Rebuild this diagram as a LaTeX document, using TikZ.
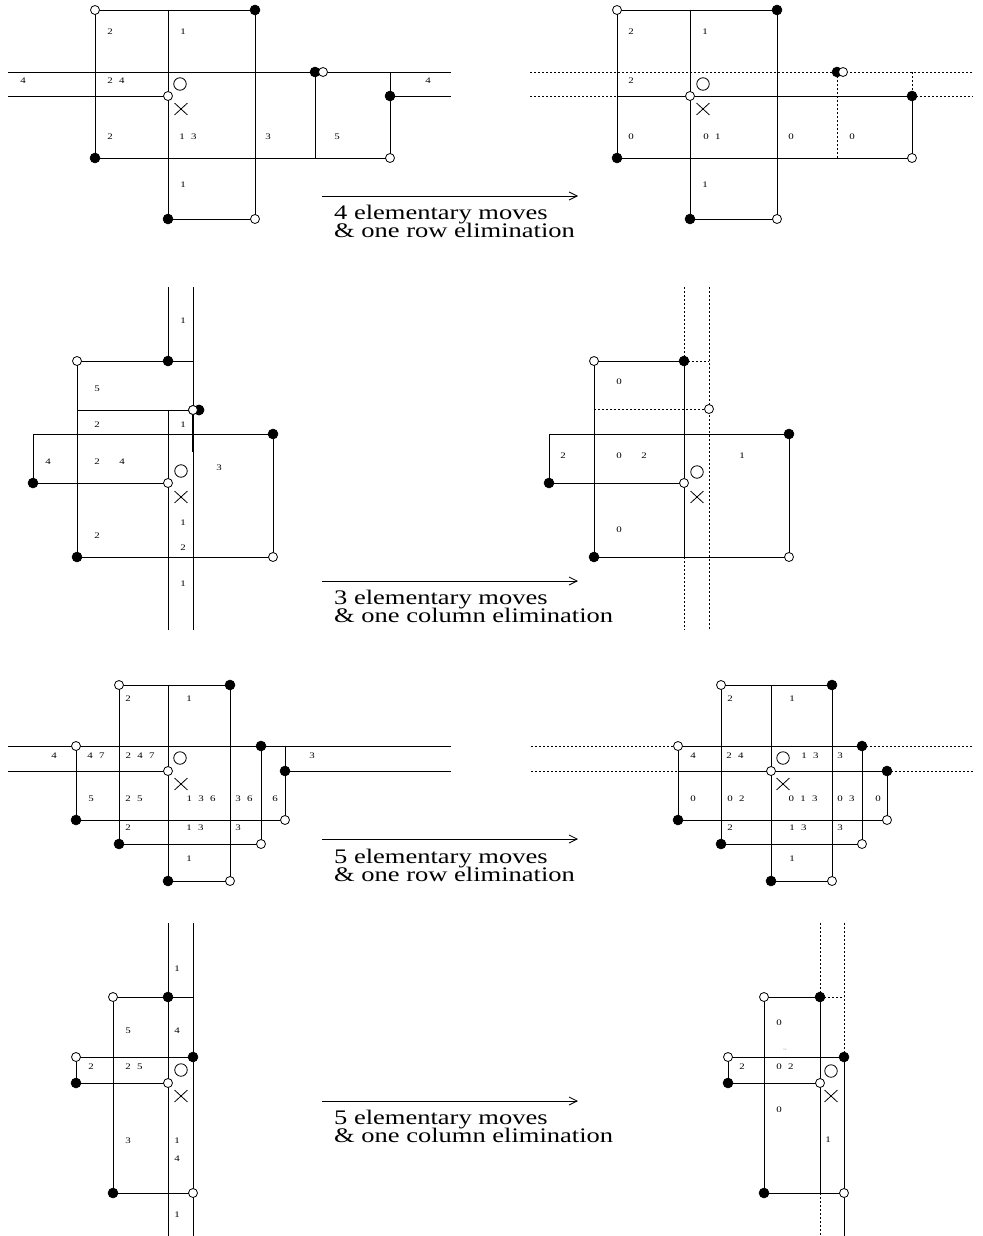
\documentclass[tikz,border=0pt]{standalone}
\usepackage{fontspec}
\setmainfont{Liberation Serif}
\newfontfamily\stretchserif[FakeStretch=1.28]{Liberation Serif}
\newcommand\mycapfont{\stretchserif\fontsize{20.7}{18}\selectfont}
\newcommand\mylabfont{\stretchserif\fontsize{8.5}{9}\selectfont\spaceskip=6.3pt\relax}
\usetikzlibrary{shapes.misc,arrows.meta}
\pgfdeclarelayer{bg}
\pgfsetlayers{bg,main}
\tikzset{
 ln/.style={line width=0.8pt},
 dt/.style={line width=0.8pt, dash pattern=on 2pt off 2pt},
 wv/.style={circle, draw, fill=white, inner sep=0pt, minimum size=9pt, line width=0.8pt},
 bv/.style={circle, draw, fill=black, inner sep=0pt, minimum size=10pt, line width=0.5pt},
 lab/.style={font=\mylabfont, inner sep=0pt},
 bigo/.style={circle, draw, inner sep=0pt, minimum size=12.5pt, line width=0.8pt},
 xm/.style={cross out, draw, inner sep=0pt, minimum width=12pt, minimum height=11pt, line width=0.8pt},
 capt/.style={font=\mycapfont, anchor=base west, inner sep=0pt},
 arr/.style={line width=0.8pt, -{Straight Barb[length=8pt,width=8pt]}},
}
\begin{document}
\begin{tikzpicture}[x=1pt,y=-1pt]
\useasboundingbox (0,0) rectangle (982,1236);

%================ ROW 1 LEFT =================
\node[wv] (A1) at (95,10) {};
\node[bv] (A2) at (255,10) {};
\node[bv] (A3) at (168,219) {};
\node[wv] (A4) at (255,219) {};
\node[bv] (A5) at (95,158) {};
\node[wv] (A6) at (390,158) {};
\node[bv] (A7) at (315,72) {};
\node[wv] (A8) at (323,72) {};
\node[wv] (A9) at (168,96) {};
\node[bv] (A10) at (390,96) {};
\coordinate (Aa) at (168,10);
\coordinate (AL1) at (8,72);
\coordinate (AR1) at (451,72);
\coordinate (AL2) at (8,96);
\coordinate (AR2) at (451,96);
\coordinate (Ab) at (315,158);
\coordinate (Ac) at (390,72);
\begin{pgfonlayer}{bg}
\draw[ln] (A1.center) -- (A2.center);
\draw[ln] (Aa) -- (A3.center);
\draw[ln] (A2.center) -- (A4.center);
\draw[ln] (A3.center) -- (A4.center);
\draw[ln] (A1.center) -- (A5.center);
\draw[ln] (A5.center) -- (A6.center);
\draw[ln] (AL1) -- (AR1);
\draw[ln] (AL2) -- (A9.center);
\draw[ln] (A10.center) -- (AR2);
\draw[ln] (A7.center) -- (Ab);
\draw[ln] (Ac) -- (A6.center);
\end{pgfonlayer}
\node[bigo] (Ao) at (180,84) {};
\node[xm] (Ax) at (181,109) {};
\node[lab] (Al1) at (110,32) {2};
\node[lab] (Al2) at (183,32) {1};
\node[lab] (Al3) at (23,81) {4};
\node[lab] (Al4) at (116,81) {2 4};
\node[lab] (Al5) at (428,81) {4};
\node[lab] (Al6) at (110,137) {2};
\node[lab] (Al7) at (188,137) {1 3};
\node[lab] (Al8) at (268,137) {3};
\node[lab] (Al9) at (337,137) {5};
\node[lab] (Al10) at (183,185) {1};

%================ ROW 1 RIGHT =================
\node[wv] (B1) at (617,10) {};
\node[bv] (B2) at (777,10) {};
\node[bv] (B3) at (690,219) {};
\node[wv] (B4) at (777,219) {};
\node[bv] (B5) at (617,158) {};
\node[wv] (B6) at (912,158) {};
\node[bv] (B7) at (837,72) {};
\node[wv] (B8) at (843,72) {};
\node[wv] (B9) at (690,96) {};
\node[bv] (B10) at (912,96) {};
\coordinate (Ba) at (690,10);
\coordinate (BL1) at (530,72);
\coordinate (BR1) at (973,72);
\coordinate (BL2) at (530,96);
\coordinate (Bm) at (617,96);
\coordinate (BR2) at (973,96);
\coordinate (Bb) at (837,158);
\coordinate (Bc) at (912,72);
\begin{pgfonlayer}{bg}
\draw[ln] (B1.center) -- (B2.center);
\draw[ln] (Ba) -- (B3.center);
\draw[ln] (B2.center) -- (B4.center);
\draw[ln] (B3.center) -- (B4.center);
\draw[ln] (B1.center) -- (B5.center);
\draw[ln] (B5.center) -- (B6.center);
\draw[ln] (Bm) -- (B10.center);
\draw[ln] (B10.center) -- (B6.center);
\draw[dt] (BL1) -- (BR1);
\draw[dt] (BL2) -- (Bm);
\draw[dt] (B10.center) -- (BR2);
\draw[dt] (B7.center) -- (Bb);
\draw[dt] (Bc) -- (B10.center);
\end{pgfonlayer}
\node[bigo] (Bo) at (703,84) {};
\node[xm] (Bx) at (703,109) {};
\node[lab] (Bl1) at (631,32) {2};
\node[lab] (Bl2) at (705,32) {1};
\node[lab] (Bl3) at (631,81) {2};
\node[lab] (Bl4) at (631,137) {0};
\node[lab] (Bl5) at (712,137) {0 1};
\node[lab] (Bl6) at (791,137) {0};
\node[lab] (Bl7) at (852,137) {0};
\node[lab] (Bl8) at (705,185) {1};

\coordinate (R1s) at (322,196);
\coordinate (R1e) at (578,196);
\draw[arr] (R1s) -- (R1e);
\node[capt] (R1a) at (334,219) {4 elementary moves};
\node[capt] (R1b) at (334,237) {\& one row elimination};

%================ ROW 2 LEFT =================
\node[bv] (C1) at (168,361) {};
\node[wv] (C2) at (77,361) {};
\node[bv] (C3) at (77,557) {};
\node[wv] (C4) at (193,410) {};
\node[bv] (C5) at (199,410) {};
\node[bv] (C6) at (273,434) {};
\node[bv] (C7) at (33,483) {};
\node[wv] (C8) at (168,483) {};
\node[wv] (C9) at (273,557) {};
\coordinate (Ct1) at (168,287);
\coordinate (Ct2) at (193,287);
\coordinate (Cb1) at (168,630);
\coordinate (Cb2) at (193,630);
\coordinate (Cm) at (168,410);
\coordinate (Cr) at (193,361);
\coordinate (Cl) at (33,434);
\coordinate (Cq) at (77,410);
\coordinate (Cs) at (193,452);
\begin{pgfonlayer}{bg}
\draw[ln] (Ct1) -- (C1.center);
\draw[ln] (Cm) -- (Cb1);
\draw[ln] (Ct2) -- (Cb2);
\draw[line width=1.5pt] (C4.center) -- (Cs);
\draw[ln] (C2.center) -- (Cr);
\draw[ln] (C2.center) -- (C3.center);
\draw[ln] (Cq) -- (C4.center);
\draw[ln] (Cl) -- (C6.center);
\draw[ln] (Cl) -- (C7.center);
\draw[ln] (C7.center) -- (C8.center);
\draw[ln] (C6.center) -- (C9.center);
\draw[ln] (C3.center) -- (C9.center);
\end{pgfonlayer}
\node[bv] (C5b) at (199,410) {};
\node[wv] (C4b) at (193,410) {};
\node[bigo] (Co) at (181,471) {};
\node[xm] (Cx) at (181,497) {};
\node[lab] (Cl1) at (183,321) {1};
\node[lab] (Cl2) at (97,389) {5};
\node[lab] (Cl3) at (97,425) {2};
\node[lab] (Cl4) at (183,425) {1};
\node[lab] (Cl5) at (48,462) {4};
\node[lab] (Cl6) at (97,462) {2};
\node[lab] (Cl7) at (122,462) {4};
\node[lab] (Cl8) at (219,468) {3};
\node[lab] (Cl9) at (183,523) {1};
\node[lab] (Cl10) at (183,548) {2};
\node[lab] (Cl11) at (97,536) {2};
\node[lab] (Cl12) at (183,584) {1};

%================ ROW 2 RIGHT =================
\node[bv] (D1) at (684,361) {};
\node[wv] (D2) at (594,361) {};
\node[bv] (D3) at (594,557) {};
\node[wv] (D4) at (709,409) {};
\node[bv] (D6) at (789,434) {};
\node[bv] (D7) at (549,483) {};
\node[wv] (D8) at (684,483) {};
\node[wv] (D9) at (789,557) {};
\coordinate (Dt1) at (684,287);
\coordinate (Dt2) at (709,287);
\coordinate (Db1) at (684,630);
\coordinate (Db2) at (709,630);
\coordinate (Dr) at (709,361);
\coordinate (Dq) at (594,409);
\coordinate (Dc) at (684,557);
\coordinate (Dl) at (549,434);
\begin{pgfonlayer}{bg}
\draw[dt] (Dt1) -- (D1.center);
\draw[ln] (D1.center) -- (Dc);
\draw[dt] (Dc) -- (Db1);
\draw[dt] (Dt2) -- (Db2);
\draw[ln] (D2.center) -- (D1.center);
\draw[dt] (D1.center) -- (Dr);
\draw[ln] (D2.center) -- (D3.center);
\draw[dt] (Dq) -- (D4.center);
\draw[ln] (Dl) -- (D6.center);
\draw[ln] (Dl) -- (D7.center);
\draw[ln] (D7.center) -- (D8.center);
\draw[ln] (D6.center) -- (D9.center);
\draw[ln] (D3.center) -- (D9.center);
\end{pgfonlayer}
\node[bigo] (Do) at (697,472) {};
\node[xm] (Dx) at (697,497) {};
\node[lab] (Dl1) at (619,382) {0};
\node[lab] (Dl2) at (563,456) {2};
\node[lab] (Dl3) at (619,456) {0};
\node[lab] (Dl4) at (644,456) {2};
\node[lab] (Dl5) at (742,456) {1};
\node[lab] (Dl6) at (619,530) {0};

\coordinate (R2s) at (322,581);
\coordinate (R2e) at (578,581);
\draw[arr] (R2s) -- (R2e);
\node[capt] (R2a) at (334,604) {3 elementary moves};
\node[capt] (R2b) at (334,622) {\& one column elimination};

%================ ROW 3 LEFT =================
\node[wv] (E1) at (119,685) {};
\node[bv] (E2) at (230,685) {};
\node[bv] (E3) at (168,881) {};
\node[wv] (E4) at (230,881) {};
\node[bv] (E5) at (119,844) {};
\node[wv] (E6) at (261,844) {};
\node[bv] (E7) at (261,746) {};
\node[wv] (E8) at (76,746) {};
\node[bv] (E9) at (76,820) {};
\node[wv] (E10) at (285,820) {};
\node[bv] (E11) at (285,771) {};
\node[wv] (E12) at (168,771) {};
\coordinate (Ea) at (168,685);
\coordinate (EL1) at (8,746);
\coordinate (ER1) at (451,746);
\coordinate (EL2) at (8,771);
\coordinate (ER2) at (451,771);
\coordinate (Ec) at (285,746);
\begin{pgfonlayer}{bg}
\draw[ln] (E1.center) -- (E2.center);
\draw[ln] (Ea) -- (E3.center);
\draw[ln] (E2.center) -- (E4.center);
\draw[ln] (E3.center) -- (E4.center);
\draw[ln] (E1.center) -- (E5.center);
\draw[ln] (E5.center) -- (E6.center);
\draw[ln] (E7.center) -- (E6.center);
\draw[ln] (EL1) -- (ER1);
\draw[ln] (E8.center) -- (E9.center);
\draw[ln] (E9.center) -- (E10.center);
\draw[ln] (Ec) -- (E10.center);
\draw[ln] (EL2) -- (E12.center);
\draw[ln] (E11.center) -- (ER2);
\end{pgfonlayer}
\node[bigo] (Eo) at (180,758) {};
\node[xm] (Ex) at (181,784) {};
\node[lab] (El1) at (128,699) {2};
\node[lab] (El2) at (189,699) {1};
\node[lab] (El3) at (54,756) {4};
\node[lab] (El4) at (96,756) {4 7};
\node[lab] (El5) at (140,756) {2 4 7};
\node[lab] (El6) at (312,756) {3};
\node[lab] (El7) at (91,799) {5};
\node[lab] (El8) at (134,799) {2 5};
\node[lab] (El9) at (201,799) {1 3 6};
\node[lab] (El10) at (244,799) {3 6};
\node[lab] (El11) at (275,799) {6};
\node[lab] (El12) at (128,828) {2};
\node[lab] (El13) at (195,828) {1 3};
\node[lab] (El14) at (238,828) {3};
\node[lab] (El15) at (189,859) {1};

%================ ROW 3 RIGHT =================
\node[wv] (F1) at (721,685) {};
\node[bv] (F2) at (832,685) {};
\node[bv] (F3) at (771,881) {};
\node[wv] (F4) at (832,881) {};
\node[bv] (F5) at (721,844) {};
\node[wv] (F6) at (862,844) {};
\node[bv] (F7) at (862,746) {};
\node[wv] (F8) at (678,746) {};
\node[bv] (F9) at (678,820) {};
\node[wv] (F10) at (887,820) {};
\node[bv] (F11) at (887,771) {};
\node[wv] (F12) at (771,771) {};
\coordinate (Fa) at (771,685);
\coordinate (FL1) at (531,746);
\coordinate (FR1) at (973,746);
\coordinate (FL2) at (531,771);
\coordinate (FR2) at (973,771);
\coordinate (Fx) at (678,771);
\begin{pgfonlayer}{bg}
\draw[ln] (F1.center) -- (F2.center);
\draw[ln] (Fa) -- (F3.center);
\draw[ln] (F2.center) -- (F4.center);
\draw[ln] (F3.center) -- (F4.center);
\draw[ln] (F1.center) -- (F5.center);
\draw[ln] (F5.center) -- (F6.center);
\draw[ln] (F7.center) -- (F6.center);
\draw[ln] (F8.center) -- (F7.center);
\draw[ln] (F8.center) -- (F9.center);
\draw[ln] (F9.center) -- (F10.center);
\draw[ln] (F11.center) -- (F10.center);
\draw[ln] (Fx) -- (F11.center);
\draw[dt] (FL1) -- (F8.center);
\draw[dt] (F7.center) -- (FR1);
\draw[dt] (FL2) -- (Fx);
\draw[dt] (F11.center) -- (FR2);
\end{pgfonlayer}
\node[bigo] (Fo) at (783,758) {};
\node[xm] (Fxx) at (783,784) {};
\node[lab] (Fl1) at (730,699) {2};
\node[lab] (Fl2) at (792,699) {1};
\node[lab] (Fl3) at (693,756) {4};
\node[lab] (Fl4) at (735,756) {2 4};
\node[lab] (Fl5) at (810,756) {1 3};
\node[lab] (Fl6) at (840,756) {3};
\node[lab] (Fl7) at (693,799) {0};
\node[lab] (Fl8) at (736,799) {0 2};
\node[lab] (Fl9) at (803,799) {0 1 3};
\node[lab] (Fl10) at (846,799) {0 3};
\node[lab] (Fl11) at (878,799) {0};
\node[lab] (Fl12) at (730,828) {2};
\node[lab] (Fl13) at (798,828) {1 3};
\node[lab] (Fl14) at (840,828) {3};
\node[lab] (Fl15) at (792,859) {1};

\coordinate (R3s) at (322,839);
\coordinate (R3e) at (578,839);
\draw[arr] (R3s) -- (R3e);
\node[capt] (R3a) at (334,863) {5 elementary moves};
\node[capt] (R3b) at (334,881) {\& one row elimination};

%================ ROW 4 LEFT =================
\node[wv] (G1) at (113,997) {};
\node[bv] (G2) at (168,997) {};
\node[bv] (G3) at (113,1193) {};
\node[wv] (G4) at (193,1193) {};
\node[wv] (G5) at (76,1057) {};
\node[bv] (G6) at (193,1057) {};
\node[bv] (G7) at (76,1083) {};
\node[wv] (G8) at (168,1083) {};
\coordinate (Gt1) at (168,923);
\coordinate (Gb1) at (168,1236);
\coordinate (Gt2) at (193,923);
\coordinate (Gb2) at (193,1236);
\coordinate (Gr) at (193,997);
\begin{pgfonlayer}{bg}
\draw[ln] (Gt1) -- (Gb1);
\draw[ln] (Gt2) -- (Gb2);
\draw[ln] (G1.center) -- (Gr);
\draw[ln] (G1.center) -- (G3.center);
\draw[ln] (G3.center) -- (G4.center);
\draw[ln] (G5.center) -- (G6.center);
\draw[ln] (G5.center) -- (G7.center);
\draw[ln] (G7.center) -- (G8.center);
\end{pgfonlayer}
\node[bigo] (Go) at (181,1070) {};
\node[xm] (Gx) at (181,1096) {};
\node[lab] (Gl1) at (177,969) {1};
\node[lab] (Gl2) at (128,1031) {5};
\node[lab] (Gl3) at (177,1031) {4};
\node[lab] (Gl4) at (91,1067) {2};
\node[lab] (Gl5) at (134,1067) {2 5};
\node[lab] (Gl6) at (128,1141) {3};
\node[lab] (Gl7) at (177,1141) {1};
\node[lab] (Gl8) at (177,1159) {4};
\node[lab] (Gl9) at (177,1215) {1};

%================ ROW 4 RIGHT =================
\node[wv] (H1) at (764,997) {};
\node[bv] (H2) at (820,997) {};
\node[bv] (H3) at (764,1193) {};
\node[wv] (H4) at (844,1193) {};
\node[wv] (H5) at (728,1057) {};
\node[bv] (H6) at (844,1057) {};
\node[bv] (H7) at (728,1083) {};
\node[wv] (H8) at (820,1083) {};
\coordinate (Ht1) at (820,923);
\coordinate (Hb1) at (820,1236);
\coordinate (Ht2) at (844,923);
\coordinate (Hb2) at (844,1236);
\coordinate (Hr) at (844,997);
\coordinate (Hc) at (820,1193);
\begin{pgfonlayer}{bg}
\draw[dt] (Ht1) -- (H2.center);
\draw[ln] (H2.center) -- (Hc);
\draw[dt] (Hc) -- (Hb1);
\draw[dt] (Ht2) -- (H6.center);
\draw[ln] (H6.center) -- (Hb2);
\draw[ln] (H1.center) -- (H2.center);
\draw[dt] (H2.center) -- (Hr);
\draw[ln] (H1.center) -- (H3.center);
\draw[ln] (H3.center) -- (H4.center);
\draw[ln] (H5.center) -- (H6.center);
\draw[ln] (H5.center) -- (H7.center);
\draw[ln] (H7.center) -- (H8.center);
\end{pgfonlayer}
\node[bigo] (Ho) at (831,1071) {};
\node[xm] (Hx) at (831,1096) {};
\node[lab] (Hl1) at (779,1023) {0};
\node[font=\fontsize{4}{4}\selectfont, inner sep=0pt] (Htick) at (785,1050) {-\kern0.4pt-};
\node[lab] (Hl2) at (742,1067) {2};
\node[lab] (Hl3) at (785,1067) {0 2};
\node[lab] (Hl4) at (779,1110) {0};
\node[lab] (Hl5) at (828,1140) {1};

\coordinate (R4s) at (322,1101);
\coordinate (R4e) at (578,1101);
\draw[arr] (R4s) -- (R4e);
\node[capt] (R4a) at (334,1124) {5 elementary moves};
\node[capt] (R4b) at (334,1142) {\& one column elimination};
\end{tikzpicture}
\end{document}
